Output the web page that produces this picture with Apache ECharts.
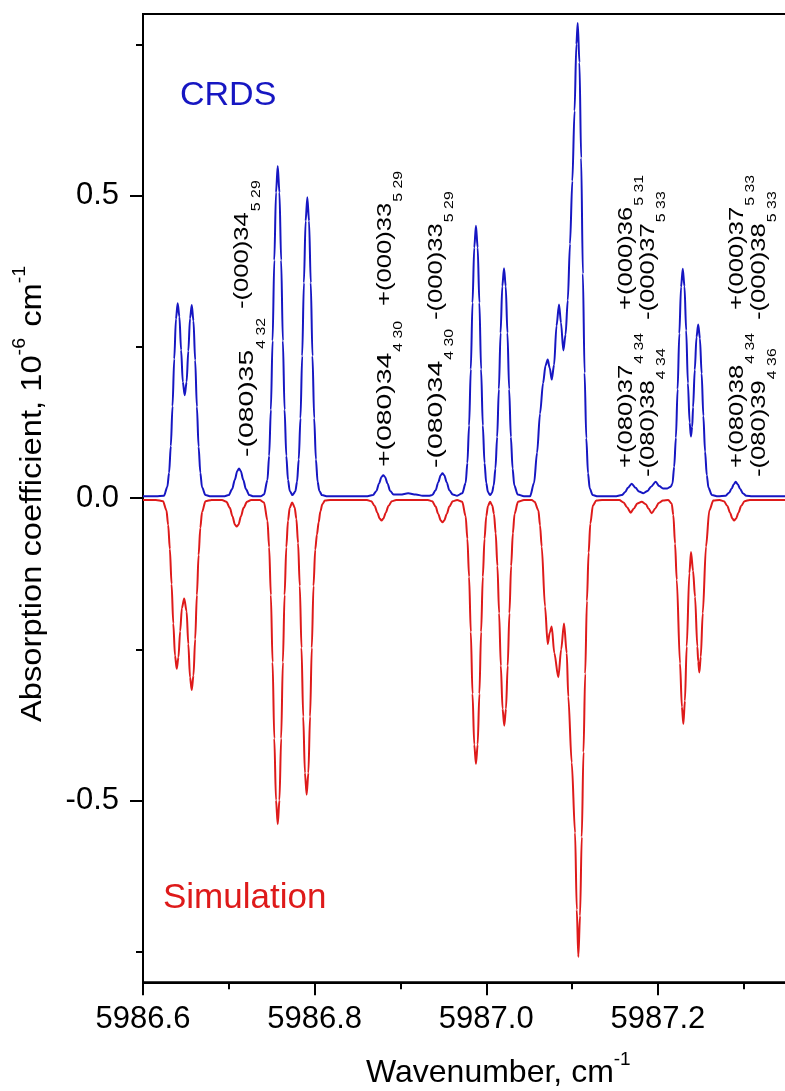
<!DOCTYPE html>
<html>
<head>
<meta charset="utf-8">
<script src="https://cdn.jsdelivr.net/npm/echarts@6/dist/echarts.min.js"></script>
<style>
  html, body { margin: 0; padding: 0; background: #fff; overflow: hidden; }
  #chart { width: 785px; height: 1091px; }
</style>
</head>
<body>
<div id="chart"></div>
<script>
// Axis ticks (wavenumber in cm-1, absorption coefficient in 1e-6 cm-1)
const wavenumberTicks = [5986.6, 5986.8, 5987.0, 5987.2, 5987.4];
const wavenumberTickLabels = [5986.6, 5986.8, 5987.0, 5987.2];
const wavenumberMinorTicks = [5986.7, 5986.9, 5987.1, 5987.3];
const absorptionTicks = [-0.5, 0, 0.5];
const absorptionMinorTicks = [-0.75, -0.25, 0.25, 0.75];

// Measured CRDS spectrum: [wavenumber, absorption coefficient]
const crdsSpectrum = [
  [5986.6000, 0.003], [5986.6150, 0.003], [5986.6244, 0.004], [5986.6284, 0.019],
  [5986.6304, 0.042], [5986.6324, 0.086], [5986.6344, 0.152], [5986.6364, 0.230],
  [5986.6384, 0.296], [5986.6404, 0.322], [5986.6424, 0.300], [5986.6444, 0.245],
  [5986.6464, 0.192], [5986.6486, 0.170], [5986.6508, 0.192], [5986.6528, 0.243],
  [5986.6548, 0.297], [5986.6568, 0.319], [5986.6588, 0.293], [5986.6608, 0.228],
  [5986.6628, 0.151], [5986.6648, 0.085], [5986.6668, 0.042], [5986.6688, 0.018],
  [5986.6728, 0.005], [5986.6790, 0.003], [5986.6940, 0.003], [5986.6999, 0.005],
  [5986.7039, 0.015], [5986.7069, 0.030], [5986.7099, 0.045], [5986.7119, 0.049],
  [5986.7139, 0.045], [5986.7169, 0.030], [5986.7199, 0.015], [5986.7239, 0.005],
  [5986.7290, 0.003], [5986.7370, 0.003], [5986.7410, 0.006], [5986.7450, 0.030],
  [5986.7470, 0.070], [5986.7490, 0.146], [5986.7510, 0.260], [5986.7530, 0.393],
  [5986.7550, 0.505], [5986.7570, 0.549], [5986.7590, 0.505], [5986.7610, 0.393],
  [5986.7630, 0.260], [5986.7650, 0.146], [5986.7670, 0.070], [5986.7690, 0.030],
  [5986.7710, 0.012], [5986.7742, 0.005], [5986.7775, 0.011], [5986.7795, 0.027],
  [5986.7815, 0.064], [5986.7835, 0.132], [5986.7855, 0.235], [5986.7875, 0.356],
  [5986.7895, 0.458], [5986.7915, 0.497], [5986.7935, 0.458], [5986.7955, 0.356],
  [5986.7975, 0.235], [5986.7995, 0.132], [5986.8015, 0.064], [5986.8035, 0.027],
  [5986.8055, 0.012], [5986.8085, 0.005], [5986.8150, 0.003], [5986.8600, 0.003],
  [5986.8680, 0.005], [5986.8720, 0.012], [5986.8750, 0.024], [5986.8780, 0.035],
  [5986.8800, 0.038], [5986.8820, 0.035], [5986.8850, 0.024], [5986.8880, 0.012],
  [5986.8920, 0.006], [5986.9000, 0.006], [5986.9090, 0.008], [5986.9180, 0.006],
  [5986.9260, 0.004], [5986.9330, 0.004], [5986.9370, 0.005], [5986.9410, 0.013],
  [5986.9440, 0.026], [5986.9470, 0.038], [5986.9490, 0.041], [5986.9510, 0.038],
  [5986.9540, 0.026], [5986.9570, 0.013], [5986.9610, 0.006], [5986.9660, 0.004],
  [5986.9720, 0.008], [5986.9760, 0.025], [5986.9780, 0.058], [5986.9800, 0.120],
  [5986.9820, 0.213], [5986.9840, 0.323], [5986.9860, 0.414], [5986.9880, 0.450],
  [5986.9900, 0.414], [5986.9920, 0.323], [5986.9940, 0.213], [5986.9960, 0.120],
  [5986.9980, 0.058], [5987.0000, 0.025], [5987.0020, 0.010], [5987.0044, 0.005],
  [5987.0067, 0.009], [5987.0087, 0.021], [5987.0107, 0.049], [5987.0127, 0.101],
  [5987.0147, 0.180], [5987.0167, 0.273], [5987.0187, 0.350], [5987.0207, 0.380],
  [5987.0227, 0.350], [5987.0247, 0.273], [5987.0267, 0.180], [5987.0287, 0.101],
  [5987.0307, 0.049], [5987.0327, 0.021], [5987.0367, 0.006], [5987.0440, 0.003],
  [5987.0510, 0.003], [5987.0557, 0.025], [5987.0592, 0.075], [5987.0627, 0.140],
  [5987.0662, 0.190], [5987.0691, 0.219], [5987.0716, 0.229], [5987.0740, 0.215],
  [5987.0763, 0.196], [5987.0790, 0.220], [5987.0819, 0.285], [5987.0848, 0.320],
  [5987.0871, 0.290], [5987.0898, 0.244], [5987.0924, 0.270], [5987.0950, 0.327],
  [5987.0976, 0.420], [5987.1003, 0.524], [5987.1029, 0.640], [5987.1050, 0.750],
  [5987.1066, 0.785], [5987.1086, 0.720], [5987.1106, 0.562], [5987.1126, 0.371],
  [5987.1146, 0.207], [5987.1166, 0.099], [5987.1186, 0.041], [5987.1206, 0.016],
  [5987.1240, 0.005], [5987.1300, 0.003], [5987.1500, 0.003], [5987.1580, 0.005],
  [5987.1620, 0.010], [5987.1650, 0.017], [5987.1695, 0.024], [5987.1740, 0.017],
  [5987.1780, 0.011], [5987.1831, 0.008], [5987.1880, 0.012], [5987.1920, 0.019],
  [5987.1975, 0.027], [5987.2015, 0.020], [5987.2060, 0.016], [5987.2110, 0.016],
  [5987.2150, 0.019], [5987.2170, 0.024], [5987.2190, 0.052], [5987.2210, 0.100],
  [5987.2230, 0.180], [5987.2250, 0.272], [5987.2270, 0.349], [5987.2290, 0.379],
  [5987.2310, 0.350], [5987.2330, 0.277], [5987.2350, 0.190], [5987.2370, 0.125],
  [5987.2385, 0.102], [5987.2400, 0.118], [5987.2410, 0.150], [5987.2430, 0.212],
  [5987.2450, 0.266], [5987.2470, 0.287], [5987.2490, 0.264], [5987.2510, 0.206],
  [5987.2530, 0.136], [5987.2550, 0.077], [5987.2570, 0.038], [5987.2590, 0.017],
  [5987.2630, 0.005], [5987.2700, 0.003], [5987.2790, 0.004], [5987.2830, 0.009],
  [5987.2860, 0.016], [5987.2885, 0.023], [5987.2907, 0.027], [5987.2930, 0.023],
  [5987.2960, 0.015], [5987.2990, 0.008], [5987.3030, 0.004], [5987.3100, 0.003],
  [5987.4000, 0.003]
];

// Simulated spectrum, plotted inverted: [wavenumber, absorption coefficient]
const simulatedSpectrum = [
  [5986.6000, -0.003], [5986.6150, -0.003], [5986.6233, -0.005], [5986.6273, -0.020],
  [5986.6293, -0.044], [5986.6313, -0.084], [5986.6333, -0.142], [5986.6353, -0.207],
  [5986.6373, -0.260], [5986.6393, -0.282], [5986.6413, -0.263], [5986.6433, -0.220],
  [5986.6453, -0.182], [5986.6480, -0.166], [5986.6508, -0.187], [5986.6528, -0.241],
  [5986.6548, -0.296], [5986.6568, -0.317], [5986.6588, -0.293], [5986.6608, -0.233],
  [5986.6628, -0.160], [5986.6648, -0.094], [5986.6668, -0.049], [5986.6688, -0.023],
  [5986.6728, -0.005], [5986.6800, -0.003], [5986.6920, -0.003], [5986.6972, -0.006],
  [5986.7012, -0.016], [5986.7042, -0.030], [5986.7072, -0.044], [5986.7092, -0.047],
  [5986.7112, -0.044], [5986.7142, -0.030], [5986.7172, -0.016], [5986.7212, -0.006],
  [5986.7260, -0.003], [5986.7360, -0.003], [5986.7410, -0.007], [5986.7450, -0.037],
  [5986.7470, -0.081], [5986.7490, -0.160], [5986.7510, -0.271], [5986.7530, -0.397],
  [5986.7550, -0.499], [5986.7570, -0.539], [5986.7590, -0.499], [5986.7610, -0.397],
  [5986.7630, -0.271], [5986.7650, -0.160], [5986.7670, -0.081], [5986.7690, -0.037],
  [5986.7710, -0.016], [5986.7738, -0.007], [5986.7767, -0.015], [5986.7787, -0.034],
  [5986.7807, -0.074], [5986.7827, -0.145], [5986.7847, -0.247], [5986.7867, -0.361],
  [5986.7887, -0.454], [5986.7907, -0.490], [5986.7927, -0.454], [5986.7947, -0.361],
  [5986.7967, -0.247], [5986.7987, -0.145], [5986.8007, -0.085], [5986.8027, -0.060],
  [5986.8047, -0.040], [5986.8067, -0.022], [5986.8090, -0.010], [5986.8120, -0.004],
  [5986.8180, -0.003], [5986.8610, -0.003], [5986.8660, -0.005], [5986.8700, -0.013],
  [5986.8730, -0.024], [5986.8760, -0.034], [5986.8780, -0.037], [5986.8800, -0.034],
  [5986.8830, -0.024], [5986.8860, -0.013], [5986.8900, -0.005], [5986.8950, -0.003],
  [5986.9320, -0.003], [5986.9370, -0.005], [5986.9410, -0.014], [5986.9440, -0.026],
  [5986.9470, -0.037], [5986.9490, -0.040], [5986.9510, -0.037], [5986.9540, -0.026],
  [5986.9570, -0.014], [5986.9610, -0.005], [5986.9660, -0.003], [5986.9720, -0.006],
  [5986.9760, -0.030], [5986.9780, -0.067], [5986.9800, -0.130], [5986.9820, -0.221],
  [5986.9840, -0.323], [5986.9860, -0.407], [5986.9880, -0.439], [5986.9900, -0.407],
  [5986.9920, -0.323], [5986.9940, -0.221], [5986.9960, -0.130], [5986.9980, -0.067],
  [5987.0000, -0.030], [5987.0020, -0.013], [5987.0044, -0.006], [5987.0070, -0.012],
  [5987.0090, -0.026], [5987.0110, -0.058], [5987.0130, -0.112], [5987.0150, -0.190],
  [5987.0170, -0.277], [5987.0190, -0.348], [5987.0210, -0.376], [5987.0230, -0.348],
  [5987.0250, -0.277], [5987.0270, -0.190], [5987.0290, -0.112], [5987.0310, -0.058],
  [5987.0330, -0.026], [5987.0370, -0.006], [5987.0440, -0.003], [5987.0530, -0.003],
  [5987.0563, -0.006], [5987.0607, -0.020], [5987.0627, -0.045], [5987.0646, -0.080],
  [5987.0685, -0.179], [5987.0716, -0.241], [5987.0740, -0.222], [5987.0763, -0.212],
  [5987.0793, -0.256], [5987.0840, -0.296], [5987.0873, -0.250], [5987.0906, -0.207],
  [5987.0938, -0.256], [5987.0956, -0.328], [5987.0996, -0.437], [5987.1035, -0.553],
  [5987.1055, -0.680], [5987.1073, -0.758], [5987.1093, -0.690], [5987.1113, -0.560],
  [5987.1133, -0.420], [5987.1153, -0.290], [5987.1173, -0.170], [5987.1193, -0.090],
  [5987.1213, -0.042], [5987.1243, -0.012], [5987.1283, -0.004], [5987.1350, -0.003],
  [5987.1550, -0.003], [5987.1600, -0.007], [5987.1640, -0.015], [5987.1684, -0.024],
  [5987.1720, -0.017], [5987.1760, -0.009], [5987.1812, -0.006], [5987.1860, -0.010],
  [5987.1890, -0.017], [5987.1928, -0.025], [5987.1970, -0.017], [5987.2010, -0.008],
  [5987.2060, -0.004], [5987.2120, -0.003], [5987.2161, -0.009], [5987.2180, -0.028],
  [5987.2200, -0.075], [5987.2220, -0.135], [5987.2258, -0.273], [5987.2280, -0.345],
  [5987.2297, -0.373], [5987.2315, -0.335], [5987.2336, -0.245], [5987.2367, -0.124],
  [5987.2386, -0.089], [5987.2410, -0.120], [5987.2433, -0.163], [5987.2460, -0.245],
  [5987.2470, -0.270], [5987.2483, -0.288], [5987.2500, -0.262], [5987.2523, -0.190],
  [5987.2561, -0.080], [5987.2600, -0.020], [5987.2646, -0.004], [5987.2720, -0.003],
  [5987.2770, -0.005], [5987.2810, -0.013], [5987.2840, -0.024], [5987.2870, -0.034],
  [5987.2888, -0.037], [5987.2910, -0.034], [5987.2940, -0.024], [5987.2970, -0.013],
  [5987.3010, -0.005], [5987.3070, -0.003], [5987.4000, -0.003]
];

// Line assignments: vibrational state + J, with Ka Kc subscripts
const assignmentLabels = [
  '-(080)35', '-(000)34', '+(080)34', '+(000)33', '-(080)34', '-(000)33',
  '+(080)37', '-(080)38', '+(000)36', '-(000)37',
  '+(080)38', '-(080)39', '+(000)37', '-(000)38'
];
const assignmentSubscripts = [
  '4 32', '5 29', '4 30', '5 29', '4 30', '5 29',
  '4 34', '4 34', '5 31', '5 33',
  '4 34', '4 36', '5 33', '5 33'
];

// Column centre, bottom start (px) and lengthwise stretch of each rotated label
const assignmentPlacement = [
  [247.5, 457, 1.35], [242.5, 309, 1.22], [385, 467, 1.35], [385, 306, 1.22],
  [436, 468, 1.35], [436, 320, 1.22],
  [626, 468, 1.22], [648, 477, 1.22], [626, 310, 1.22], [648, 320, 1.22],
  [737, 468, 1.22], [759, 477, 1.22], [737, 310, 1.22], [759, 320, 1.22]
];

const FONT_FAMILY = "'Liberation Sans', Arial, Helvetica, sans-serif";
const BLUE = '#1616C2';
const RED = '#DE1A1A';

const measureCtx = document.createElement('canvas').getContext('2d');
function textWidth(str, size) {
  measureCtx.font = size + 'px ' + FONT_FAMILY;
  return measureCtx.measureText(str).width;
}

// Lay out a run of text pieces along one line (horizontal or reading upward).
// shift moves a piece's middle line across the run (positive = towards glyph bottoms).
function textRun(x0, y0, parts, opts) {
  const vertical = !!opts.vertical;
  const out = [];
  let u = 0;
  parts.forEach(p => {
    const v = p.shift || 0;
    const stretch = p.stretch || opts.stretch || 1;
    out.push({
      type: 'text',
      silent: true,
      x: vertical ? x0 + v : x0 + u,
      y: vertical ? y0 - u : y0 + v,
      rotation: vertical ? Math.PI / 2 : 0,
      scaleX: stretch,
      style: {
        text: p.text,
        fontSize: p.size,
        fontFamily: FONT_FAMILY,
        fill: opts.color || '#000',
        align: 'left',
        verticalAlign: 'middle'
      }
    });
    u += textWidth(p.text, p.size) * stretch + (p.gap || 0);
  });
  return out;
}

const graphics = [];
// Panel captions
graphics.push(...textRun(180, 95.5, [{ text: 'CRDS', size: 34 }], { color: BLUE }));
graphics.push(...textRun(163, 898.5, [{ text: 'Simulation', size: 35 }], { color: RED }));
// Axis titles
graphics.push(...textRun(366, 1073, [
  { text: 'Wavenumber, cm', size: 32 },
  { text: '-1', size: 19, shift: -13 }
], {}));
graphics.push(...textRun(32.5, 722, [
  { text: 'Absorption coefficient, 10', size: 30 },
  { text: '-6', size: 18, shift: -12, gap: 2 },
  { text: ' cm', size: 30 },
  { text: '-1', size: 18, shift: -12 }
], { vertical: true, stretch: 1.09 }));
// Assignment labels
assignmentLabels.forEach((label, i) => {
  const [cx, y0, stretch] = assignmentPlacement[i];
  graphics.push(...textRun(cx, y0, [
    { text: label, size: 21, gap: 1, stretch: stretch },
    { text: assignmentSubscripts[i], size: 13, shift: 13.7, stretch: 1.22 }
  ], { vertical: true }));
});

const axisColor = '#000';
const chart = echarts.init(document.getElementById('chart'), null, { renderer: 'canvas' });
chart.setOption({
  animation: false,
  backgroundColor: '#fff',
  grid: {
    left: 143, top: 14, right: -44.5, bottom: 108.7,
    outerBoundsMode: 'none',
    show: true, borderColor: axisColor, borderWidth: 2, backgroundColor: 'transparent'
  },
  xAxis: [
    {
      type: 'value', min: 5986.6, max: 5987.4, position: 'bottom',
      axisLine: { onZero: false, lineStyle: { color: axisColor, width: 2 } },
      axisTick: { customValues: wavenumberTicks, length: 13, lineStyle: { color: axisColor, width: 2 } },
      axisLabel: {
        customValues: wavenumberTickLabels, formatter: v => v.toFixed(1),
        fontSize: 31, fontFamily: FONT_FAMILY, color: '#000', margin: 22
      },
      splitLine: { show: false }
    },
    {
      type: 'value', min: 5986.6, max: 5987.4, position: 'bottom',
      axisLine: { show: false, onZero: false },
      axisTick: { customValues: wavenumberMinorTicks, length: 7, lineStyle: { color: axisColor, width: 2 } },
      axisLabel: { show: false },
      splitLine: { show: false }
    }
  ],
  yAxis: [
    {
      type: 'value', min: -0.8, max: 0.8, position: 'left',
      axisLine: { onZero: false, lineStyle: { color: axisColor, width: 2 } },
      axisTick: { customValues: absorptionTicks, length: 13, lineStyle: { color: axisColor, width: 2 } },
      axisLabel: {
        customValues: absorptionTicks, formatter: v => v.toFixed(1),
        fontSize: 31, fontFamily: FONT_FAMILY, color: '#000', margin: 24
      },
      splitLine: { show: false }
    },
    {
      type: 'value', min: -0.8, max: 0.8, position: 'left',
      axisLine: { show: false, onZero: false },
      axisTick: { customValues: absorptionMinorTicks, length: 7, lineStyle: { color: axisColor, width: 2 } },
      axisLabel: { show: false },
      splitLine: { show: false }
    }
  ],
  series: [
    {
      name: 'Simulation', type: 'line', data: simulatedSpectrum,
      xAxisIndex: 0, yAxisIndex: 0, showSymbol: false, smooth: 0.3, smoothMonotone: 'x',
      lineStyle: { color: RED, width: 2 }, z: 2
    },
    {
      name: 'CRDS', type: 'line', data: crdsSpectrum,
      xAxisIndex: 0, yAxisIndex: 0, showSymbol: false, smooth: 0.3, smoothMonotone: 'x',
      lineStyle: { color: BLUE, width: 2 }, z: 3
    }
  ],
  graphic: graphics
});
</script>
</body>
</html>
